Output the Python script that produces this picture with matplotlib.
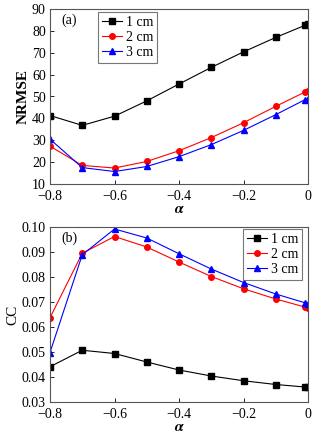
import matplotlib
matplotlib.use("Agg")
import matplotlib.pyplot as plt

alpha = [-0.8, -0.7, -0.6, -0.5, -0.4, -0.3, -0.2, -0.1, -0.01, 0.0]
labels = ["1 cm", "2 cm", "3 cm"]
nrmse_1 = [41.3, 36.8, 41.0, 48.0, 55.7, 63.3, 70.4, 77.0, 82.5, 83.0]
nrmse_2 = [27.3, 18.5, 17.3, 20.3, 25.2, 31.2, 38.0, 45.5, 52.0, 52.7]
nrmse_3 = [30.5, 17.5, 15.7, 18.0, 22.5, 28.0, 34.5, 41.7, 48.5, 49.0]
cc_1 = [0.0441, 0.0507, 0.0494, 0.0460, 0.0428, 0.0404, 0.0385, 0.0370, 0.0360, 0.0360]
cc_2 = [0.0637, 0.0895, 0.0962, 0.0920, 0.0860, 0.0802, 0.0753, 0.0712, 0.0680, 0.0678]
cc_3 = [0.0498, 0.0889, 0.0992, 0.0956, 0.0893, 0.0832, 0.0778, 0.0732, 0.0697, 0.0692]
xticks = [-0.8, -0.6, -0.4, -0.2, 0.0]
xticklabels = ["\u22120.8", "\u22120.6", "\u22120.4", "\u22120.2", "0"]

plt.rcParams['font.family'] = ['Liberation Serif', 'DejaVu Serif']
plt.rcParams['mathtext.fontset'] = 'stix'

fig = plt.figure(figsize=(3.21, 4.36), dpi=100)
ax1 = fig.add_axes([50/321, 1-184/436, 258/321, 175/436])
ax2 = fig.add_axes([50/321, 1-402/436, 258/321, 175/436])

styles = [("black", "s"), ("red", "o"), ("blue", "^")]

for ax, data, ylim, yticks, ylabel, tag, legloc in [
    (ax1, [nrmse_1, nrmse_2, nrmse_3], (10, 90), list(range(10, 91, 10)), "NRMSE", "(a)", (0.186, 0.69)),
    (ax2, [cc_1, cc_2, cc_3], (0.03, 0.10), [0.03, 0.04, 0.05, 0.06, 0.07, 0.08, 0.09, 0.10], "CC", "(b)", (0.748, 0.697)),
]:
    for (c, m), y, lab in zip(styles, data, labels):
        ax.plot(alpha, y, color=c, marker=m, markersize=4, linewidth=0.8, label=lab)
    ax.set_xlim(-0.8, 0.0)
    ax.set_ylim(*ylim)
    ax.set_yticks(yticks)
    if ylabel == "CC":
        ax.set_yticklabels(["%.2f" % v for v in yticks])
    ax.set_xticks(xticks)
    ax.set_xticklabels(xticklabels)
    ax.tick_params(direction='in', length=3, width=0.6, labelsize=10)
    ax.tick_params(axis='x', pad=4.5)
    ax.tick_params(axis='y', pad=3)
    for s in ax.spines.values():
        s.set_color("#555555")
        s.set_linewidth(0.8)
    ax.set_xlabel(r"$\boldsymbol{\alpha}$", fontsize=11, labelpad=0)
    ax.set_ylabel(ylabel, fontsize=11, fontweight='bold' if ylabel == "NRMSE" else 'normal', labelpad=2)
    ax.text(0.045, 0.975, tag, transform=ax.transAxes, fontsize=10, va='top')
    leg = ax.legend(loc='lower left', bbox_to_anchor=legloc, fontsize=10, frameon=True,
                    fancybox=False, edgecolor='#555555', handlelength=1.4,
                    borderpad=0.3, labelspacing=0.15, handletextpad=0.3, borderaxespad=0)
    leg.get_frame().set_linewidth(0.8)

fig.savefig("out.png", dpi=100)
